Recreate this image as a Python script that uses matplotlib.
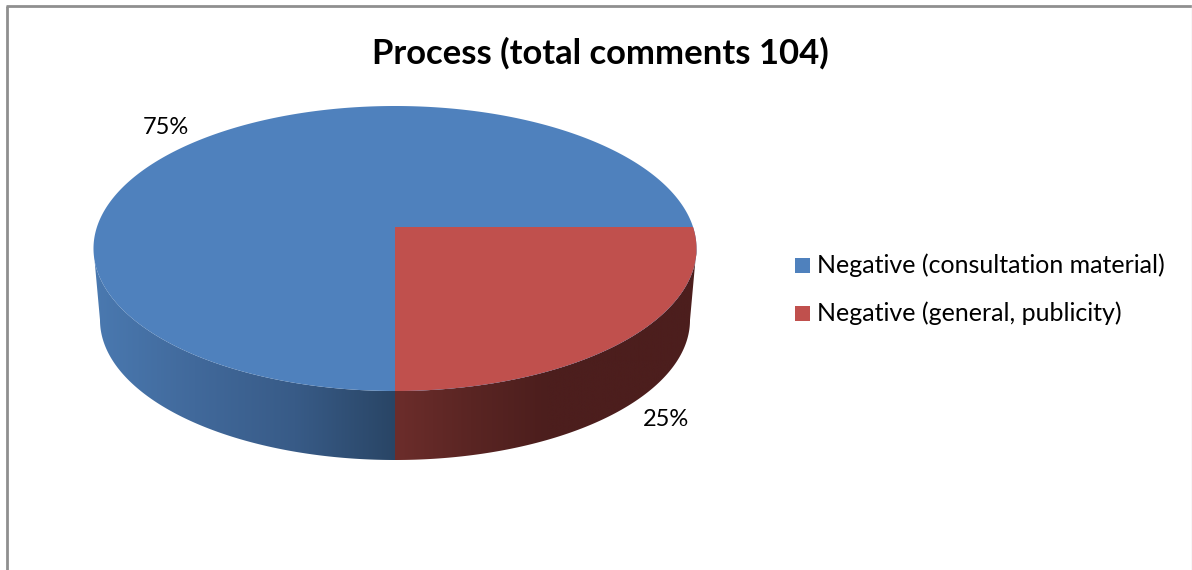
import numpy as np
import matplotlib
matplotlib.use('Agg')
import matplotlib.pyplot as plt
from matplotlib.colors import LinearSegmentedColormap
from matplotlib.patches import Polygon, Rectangle

title = 'Process (total comments 104)'
labels = ['Negative (consultation material)', 'Negative (general, publicity)']
shares = [75, 25]
pct_labels = ['75%', '25%']

plt.rcParams['font.family'] = ['Lato', 'DejaVu Sans']

BLUE = '#4f81bd'
RED = '#c0504d'

# pie geometry in image pixels (y down)
CX, CY, A, B = 395, 248.5, 301.5, 142.5
CY_LOW, A_LOW, B_LOW = 320, 295, 140
APEX_Y = 227


def rim_point(chart_angle):
    # where a ray from the apex hits the top ellipse
    dx, dy = np.cos(chart_angle), np.sin(chart_angle)
    py = APEX_Y - CY
    qa = (dx / A) ** 2 + (dy / B) ** 2
    qb = 2 * py * dy / B ** 2
    qc = (py / B) ** 2 - 1
    r = (-qb + np.sqrt(qb ** 2 - 4 * qa * qc)) / (2 * qa)
    return np.arctan2((APEX_Y + r * dy - CY) / B, r * dx / A)


def top(t):
    return CX + A * np.cos(t), CY + B * np.sin(t)


def low(t):
    return CX + A_LOW * np.cos(t), CY_LOW + B_LOW * np.sin(t)


def side_shape(t0, t1):
    # outline of the pie wall between two rim angles
    ts = np.linspace(t0, t1, 200)
    ux, uy = top(ts)
    lx, ly = low(ts[::-1])
    return np.column_stack([np.r_[ux, lx], np.r_[uy, ly]])


fig = plt.figure(figsize=(11.92, 5.70), dpi=100)
ax = fig.add_axes([0, 0, 1, 1])

# chart frame, the bottom edge is cut off in the original
ax.plot([7, 7], [570, 5.5], color='#8f8f8f', lw=2.0, solid_capstyle='butt')
ax.plot([6, 1192], [5.5, 5.5], color='#8f8f8f', lw=2.0, solid_capstyle='butt')
ax.plot([1191.5, 1191.5], [5, 570], color='#d9d9d9', lw=1.0)

# red runs clockwise from 3 o'clock, blue takes the rest
red_end = 2 * np.pi * shares[1] / sum(shares)
t_start = rim_point(0.0)
t_end = rim_point(red_end)

blue_side = LinearSegmentedColormap.from_list('b', ['#4a79b0', '#41699b', '#385b87', '#294565'])
red_side = LinearSegmentedColormap.from_list('r', ['#6c2d2b', '#5a2523', '#4c1e1d', '#4c1e1d', '#4c1e1d'])

# walls: horizontal gradient images clipped to the wall outline
grad = np.linspace(0, 1, 512).reshape(1, -1)
im = ax.imshow(grad, cmap=blue_side, extent=[CX - A, CX, 480, 240], aspect='auto')
im.set_clip_path(Polygon(side_shape(t_end, np.pi), closed=True, transform=ax.transData))
im = ax.imshow(grad, cmap=red_side, extent=[CX, CX + A, 480, 240], aspect='auto')
im.set_clip_path(Polygon(side_shape(0, t_end), closed=True, transform=ax.transData))

# top face
tt = np.linspace(0, 2 * np.pi, 721)
ax.add_patch(Polygon(np.column_stack(top(tt)), closed=True, fc=BLUE, ec='none'))
tr = np.linspace(t_start, t_end, 200)
rx, ry = top(tr)
ax.add_patch(Polygon(np.column_stack([np.r_[CX, rx], np.r_[APEX_Y, ry]]), closed=True, fc=RED, ec='none'))

ax.text(600, 53, title, fontsize=24.9, fontweight='bold', ha='center', va='center', color='black')

ax.text(165.5, 128, pct_labels[0], fontsize=17, ha='center', va='center', color='black')
ax.text(666.5, 419, pct_labels[1], fontsize=17, ha='center', va='center', color='black')

for lab, col, y in zip(labels, [BLUE, RED], [265, 313]):
    ax.add_patch(Rectangle((795, y - 7.5), 15, 15, fc=col, ec='none'))
    ax.text(817, y + 0.5, lab, fontsize=18, ha='left', va='center', color='black')

ax.set_xlim(0, 1192)
ax.set_ylim(570, 0)
ax.axis('off')

fig.savefig('out.png', dpi=100)
